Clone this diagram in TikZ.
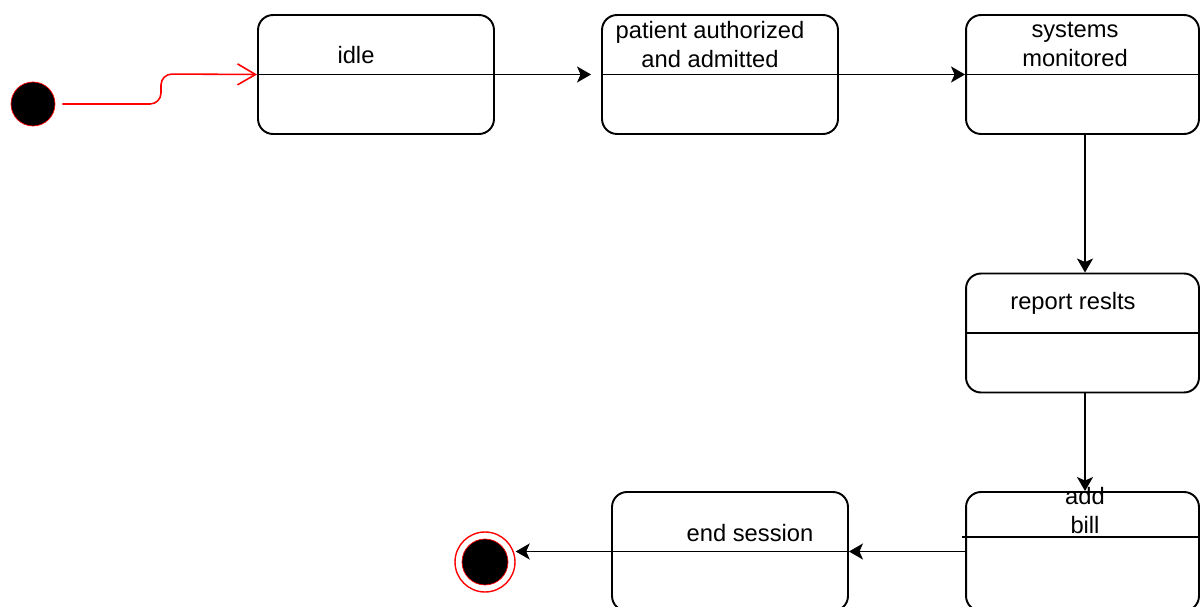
\documentclass[tikz,border=0pt]{standalone}
\usepackage{fontspec}
\setmainfont{Liberation Sans}
\usetikzlibrary{arrows.meta}

\tikzset{
  state/.style = {draw, rectangle, rounded corners=0.3cm, line width=1.1pt,
                  minimum width=4.72cm, minimum height=2.38cm, inner sep=0pt},
  label/.style = {align=center, font=\fontsize{13.5}{16.5}\selectfont, inner sep=0pt},
  arr/.style   = {line width=1.1pt, -{Stealth[length=0.28cm,width=0.32cm,inset=0.07cm]}},
}

\begin{document}
\begin{tikzpicture}[x=0.02cm,y=-0.02cm]
            \useasboundingbox (0,0) rectangle (1200,607);
            \clip (0,0) rectangle (1200,607);

            \node [circle,fill=black,draw=red,minimum size=0.88cm,inner sep=0pt] (init) at (33,104) {};

            \node [state] (idle) at (376,74.5) {};
            \node [state] (patient) at (720,74.5) {};
            \node [state,minimum width=4.66cm] (systems) at (1082.5,74.5) {};
            \node [state,minimum width=4.66cm] (report) at (1082.5,333) {};
            \node [state,minimum width=4.66cm] (addbill) at (1082.5,551.5) {};
            \node [state] (endsess) at (730,551.5) {};

            \node [label] (idle-txt) at (356,55) {idle};
            \node [label] (patient-txt) at (710,44.5) {patient authorized\\and admitted};
            \node [label] (systems-txt) at (1075,44.5) {systems\\monitored};
            \node [label] (report-txt) at (1073,303) {report reslts};
            \node [label] (addbill-txt) at (1085,511) {add\\bill};
            \node [label] (endsess-txt) at (750,533) {end session};

            \node [circle,draw=red,line width=0.8pt,minimum size=1.2cm] (final) at (485,562) {};
            \node [circle,fill=black,draw=red,minimum size=0.92cm,inner sep=0pt] (final-in) at (final) {};

            \coordinate (billsep) at (0,537);
            \draw [line width=1.1pt] (idle.west) -- (idle.east);
            \draw [line width=1.1pt] (patient.west) -- (patient.east);
            \draw [line width=1.1pt] (systems.west) -- (systems.east);
            \draw [line width=1.1pt] (report.west) -- (report.east);
            \draw [line width=1.1pt] ([xshift=-0.06cm]addbill.west |- billsep) -- (addbill.east |- billsep);

            \draw [red,line width=0.9pt,rounded corners=0.22cm,-{Straight Barb[length=0.36cm,width=0.42cm]}]
                ([xshift=0.14cm]init.east) -- (161,104) -- (161,74) -- (idle.west);
            \draw [arr,shorten >=0.2cm] (idle.east) -- (patient.west);
            \draw [arr] (patient.east) -- (systems.west);
            \draw [arr] ([xshift=0.05cm]systems.south) -- ([xshift=0.05cm]report.north);
            \draw [arr] ([xshift=0.05cm]report.south) -- ([xshift=0.05cm]addbill.north);
            \draw [arr] (addbill.west) -- (endsess.east);
            \draw [arr] (endsess.east) -- (endsess.east -| final.east);
\end{tikzpicture}
\end{document}
